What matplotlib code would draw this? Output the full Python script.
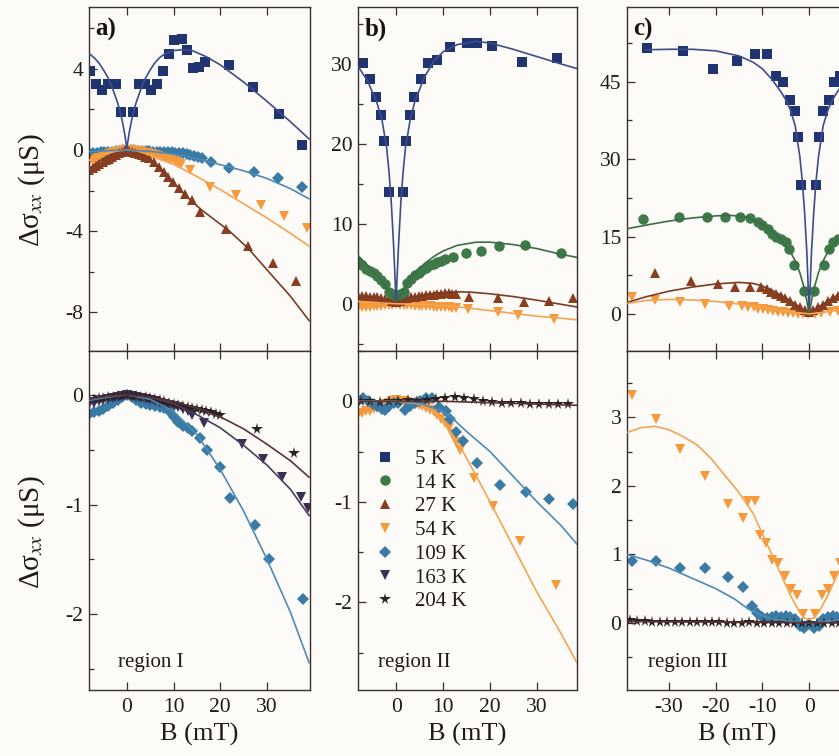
import matplotlib
matplotlib.use("Agg")
import matplotlib.pyplot as plt
from matplotlib.lines import Line2D
from matplotlib.ticker import MultipleLocator

plt.rcParams['font.family'] = ['Liberation Serif', 'DejaVu Serif']
plt.rcParams['mathtext.fontset'] = 'stix'
plt.rcParams['axes.unicode_minus'] = False

# ---------------- data (B in mT, delta sigma_xx in uS) ----------------
temps = ['5 K', '14 K', '27 K', '54 K', '109 K', '163 K', '204 K']

# panel a (top)
a5_B = [-7.9, -6.5, -5.3, -4.0, -2.4, -1.35, 1.35, 2.6, 3.8, 5.1, 6.4, 7.8, 9.1, 10.1, 11.7, 12.9, 14.2, 15.4, 16.8, 21.9, 27.0, 32.5, 37.5]
a5_S = [3.9, 3.24, 2.97, 3.27, 3.24, 1.88, 1.88, 3.24, 3.24, 2.97, 3.24, 3.9, 4.73, 5.43, 5.48, 4.93, 4.02, 4.07, 4.32, 4.2, 3.13, 1.77, 0.27]
a27_B = [-8, -7.3, -6.6, -5.9, -5.2, -4.5, -3.8, -3.1, -2.4, -1.7, -1.0, -0.3, 0.4, 1.1, 1.8, 2.5, 3.2, 3.9, 4.8, 5.8, 6.9, 7.9, 8.8, 9.9, 11.2, 12.4, 13.9, 15.6, 21.3, 26.0, 31.3, 36.3]
a27_S = [-1.0, -0.9, -0.8, -0.7, -0.6, -0.5, -0.42, -0.33, -0.24, -0.15, -0.08, -0.02, -0.03, -0.07, -0.12, -0.18, -0.24, -0.32, -0.4, -0.6, -0.82, -1.07, -1.35, -1.57, -1.87, -2.15, -2.48, -3.07, -3.87, -4.73, -5.57, -6.45]
a54_B = [-8, -7.3, -6.6, -5.9, -5.2, -4.5, -3.8, -3.1, -2.4, -1.7, -1.0, -0.3, 0.4, 1.1, 1.8, 2.5, 3.2, 3.9, 4.6, 5.3, 6.0, 6.7, 7.4, 8.1, 8.8, 9.5, 10.2, 10.9, 11.6, 13.5, 17.9, 23.3, 28.7, 33.7, 38.6]
a54_S = [-0.6, -0.52, -0.45, -0.38, -0.32, -0.26, -0.2, -0.15, -0.1, -0.06, -0.03, -0.01, -0.01, -0.02, -0.04, -0.06, -0.09, -0.12, -0.15, -0.19, -0.23, -0.27, -0.32, -0.37, -0.42, -0.48, -0.55, -0.62, -0.7, -0.98, -1.83, -2.23, -2.73, -3.23, -3.83]
a109_B = [-8, -7.2, -6.4, -5.6, -4.8, -4.0, -3.2, -2.4, -1.6, -0.8, 0, 0.8, 1.6, 2.4, 3.2, 4.0, 4.8, 5.6, 6.4, 7.2, 8.0, 8.8, 9.6, 10.4, 11.2, 12.0, 12.8, 13.6, 14.4, 15.2, 16.0, 18.1, 21.9, 27.2, 32.4, 37.4]
a109_S = [-0.15, -0.14, -0.12, -0.11, -0.1, -0.08, -0.07, -0.05, -0.03, -0.01, 0.0, -0.01, -0.02, -0.03, -0.04, -0.05, -0.06, -0.07, -0.08, -0.08, -0.09, -0.1, -0.11, -0.12, -0.13, -0.15, -0.18, -0.22, -0.27, -0.33, -0.4, -0.57, -0.9, -1.1, -1.4, -1.82]

a5_fB = [-8, -7, -6, -5, -4, -3, -2, -1.5, -1, -0.5, -0.2, 0, 0.2, 0.5, 1, 1.5, 2, 3, 4, 5, 6, 7, 8, 10, 12, 14, 17, 20, 25, 30, 35, 39]
a5_f = [4.75, 4.55, 4.3, 3.95, 3.55, 3.0, 2.35, 1.95, 1.45, 0.85, 0.4, 0.0, 0.4, 0.85, 1.45, 1.95, 2.35, 3.0, 3.55, 3.95, 4.3, 4.55, 4.72, 4.9, 4.95, 4.9, 4.6, 4.2, 3.35, 2.4, 1.4, 0.55]
a27_fB = [-8, -6, -4, -2, -1, 0, 1, 2, 4, 6, 8, 10, 12, 14, 16, 18, 20, 22, 26, 30, 35, 39]
a27_f = [-0.9, -0.55, -0.28, -0.08, -0.02, 0, -0.02, -0.08, -0.3, -0.65, -1.1, -1.6, -2.1, -2.55, -2.95, -3.3, -3.65, -4.0, -4.85, -5.9, -7.2, -8.4]
a54_fB = [-8, -6, -4, -2, 0, 2, 5, 10, 15, 20, 25, 30, 35, 39]
a54_f = [-0.5, -0.3, -0.14, -0.04, 0, -0.03, -0.25, -0.7, -1.3, -1.95, -2.65, -3.35, -4.1, -4.73]
a109_fB = [-8, -4, 0, 5, 10, 15, 20, 25, 30, 35, 39]
a109_f = [-0.08, -0.03, 0, -0.06, -0.2, -0.42, -0.72, -1.02, -1.4, -1.9, -2.4]

# panel b (top)
b5_B = [-7.1, -5.5, -4.3, -3.2, -2.5, -1.6, 1.4, 2.1, 3.0, 3.9, 5.3, 6.9, 8.8, 11.5, 15.0, 17.2, 20.4, 26.7, 34.3]
b5_S = [30.1, 28.1, 25.8, 23.6, 20.3, 14.0, 14.0, 20.3, 23.6, 25.8, 28.1, 30.1, 30.5, 32.1, 32.6, 32.6, 32.2, 30.2, 30.7]
b14_B = [-8, -7.2, -6.4, -5.6, -4.8, -4.0, -3.2, -2.4, -1.6, -0.8, 0, 0.8, 1.6, 2.4, 3.2, 4.0, 4.8, 5.6, 6.4, 7.2, 8.0, 8.8, 9.6, 10.4, 12.2, 14.8, 18.0, 22.0, 27.5, 35.0]
b14_S = [5.2, 4.8, 4.4, 4.1, 3.8, 3.5, 3.0, 2.5, 1.5, 1.2, 1.1, 1.2, 1.5, 2.6, 3.1, 3.6, 3.9, 4.2, 4.5, 4.8, 5.0, 5.2, 5.4, 5.6, 5.9, 6.3, 6.6, 7.2, 7.3, 6.4]
b27_B = [-8, -7.2, -6.4, -5.6, -4.8, -4.0, -3.2, -2.4, -1.6, -0.8, 0, 0.8, 1.6, 2.4, 3.2, 4.0, 4.8, 5.6, 6.4, 7.2, 8.0, 8.8, 9.6, 10.4, 11.2, 12.0, 12.8, 15.6, 21.7, 27.2, 32.6, 37.7]
b27_S = [1.0, 1.0, 0.95, 0.9, 0.85, 0.8, 0.75, 0.65, 0.55, 0.4, 0.25, 0.4, 0.55, 0.7, 0.8, 0.9, 0.95, 1.0, 1.05, 1.1, 1.15, 1.2, 1.25, 1.3, 1.3, 1.25, 1.2, 0.84, 0.71, 0.21, 0.41, 0.71]
b54_B = [-8, -7.2, -6.4, -5.6, -4.8, -4.0, -3.2, -2.4, -1.6, -0.8, 0, 0.8, 1.6, 2.4, 3.2, 4.0, 4.8, 5.6, 6.4, 7.2, 8.0, 8.8, 9.6, 10.4, 11.2, 12.0, 12.8, 15.4, 21.7, 26.0, 33.6]
b54_S = [-0.4, -0.4, -0.35, -0.35, -0.3, -0.3, -0.25, -0.2, -0.15, -0.1, -0.05, -0.1, -0.15, -0.2, -0.2, -0.25, -0.25, -0.3, -0.3, -0.3, -0.35, -0.35, -0.4, -0.4, -0.45, -0.5, -0.5, -0.7, -1.0, -1.46, -1.9]

b5_fB = [-8, -6, -4, -3, -2, -1.5, -1, -0.5, -0.2, 0, 0.2, 0.5, 1, 1.5, 2, 3, 4, 6, 8, 10, 13, 17, 20, 25, 30, 35, 38.5]
b5_f = [29.6, 27.8, 25.0, 23.0, 19.5, 16.5, 12.5, 7.0, 3.0, 0.0, 3.0, 7.0, 12.5, 16.5, 19.5, 23.0, 25.3, 28.3, 30.3, 31.5, 32.4, 32.8, 32.6, 31.8, 30.9, 30.0, 29.4]
b14_fB = [-8, -6, -4, -2, -1, -0.5, 0, 0.5, 1, 2, 4, 6, 8, 10, 13, 17, 20, 25, 30, 35, 38.5]
b14_f = [6.0, 4.7, 3.5, 2.0, 1.2, 0.7, 0.0, 0.7, 1.2, 2.2, 3.8, 5.0, 5.9, 6.6, 7.3, 7.7, 7.7, 7.4, 6.9, 6.2, 5.8]
b27_fB = [-8, -4, -2, -1, 0, 1, 2, 4, 6, 8, 10, 13, 16, 20, 25, 30, 35, 38.5]
b27_f = [1.0, 0.7, 0.5, 0.35, 0, 0.35, 0.55, 0.85, 1.1, 1.3, 1.4, 1.5, 1.45, 1.25, 0.9, 0.45, -0.05, -0.4]
b54_fB = [-8, -4, 0, 5, 10, 15, 20, 25, 30, 35, 38.5]
b54_f = [0.3, 0.15, 0, -0.05, -0.2, -0.5, -0.85, -1.2, -1.55, -1.8, -2.0]

# panel c (top)
c5_B = [-34.8, -27.0, -20.6, -15.5, -11.7, -9.1, -7.1, -5.5, -4.2, -3.1, -2.4, -1.7, 1.5, 2.2, 2.9, 4.2, 5.35, 6.5]
c5_S = [51.5, 51.0, 47.5, 49.1, 50.3, 50.3, 46.2, 44.9, 41.5, 39.4, 34.2, 25.0, 25.0, 34.2, 39.4, 41.5, 44.9, 46.2]
c14_B = [-35.5, -27.8, -21.9, -18.0, -14.9, -12.6, -10.9, -10.0, -8.9, -8.0, -7.1, -6.1, -5.0, -4.3, -3.2, -1.1, 1.1, 3.2, 4.3, 5.0, 6.1]
c14_S = [18.3, 18.7, 18.7, 18.7, 18.7, 18.6, 17.9, 17.2, 16.5, 15.5, 15.0, 14.6, 14.0, 12.6, 9.5, 4.5, 4.5, 9.5, 12.6, 14.0, 14.6]
c27_B = [-33, -25.3, -19.6, -15.8, -12.6, -10.3, -9.1, -8.1, -7.1, -6.1, -5.1, -4.0, -3.0, -1.9, -0.9, 0, 0.9, 1.9, 3.0, 4.0, 5.1, 6.1]
c27_S = [7.9, 6.3, 5.8, 5.2, 5.3, 5.3, 4.8, 4.3, 3.9, 3.4, 3.0, 2.5, 1.8, 1.4, 0.7, 0.3, 0.7, 1.4, 1.8, 2.5, 3.0, 3.4]
c54_B = [-38, -33, -27.6, -22.3, -17.1, -14.4, -13, -11.9, -10.9, -9.8, -8.8, -7.7, -6.6, -5.5, -4.5, -3.4, -2.3, -1.3, -0.2, 1.2, 2.6, 4.4, 6.2]
c54_S = [3.2, 2.6, 2.3, 1.9, 1.6, 1.6, 1.3, 1.3, 1.0, 0.9, 0.7, 0.5, 0.4, 0.3, 0.2, 0.1, 0.0, 0.0, -0.1, 0.0, 0.2, 0.4, 0.6]

c5_fB = [-35, -30, -25, -20, -15, -12, -10, -8, -6, -5, -4, -3, -2, -1.5, -1, -0.5, -0.2, 0, 0.2, 0.5, 1, 1.5, 2, 3, 4, 5, 6, 8]
c5_f = [51.2, 51.3, 51.3, 51.0, 50.0, 48.8, 47.5, 45.5, 43.0, 41.5, 39.5, 36.5, 30.5, 26.0, 20.0, 12.0, 5.0, 0.0, 5.0, 12.0, 20.0, 26.0, 30.5, 36.5, 39.5, 41.5, 43.0, 45.5]
c14_fB = [-39, -35, -30, -25, -20, -17, -14, -12, -10, -8, -6, -4, -3, -2, -1, -0.5, 0, 0.5, 1, 2, 3, 4, 6, 8]
c14_f = [16.5, 17.2, 18.0, 18.6, 19.0, 19.1, 18.9, 18.3, 17.3, 16.0, 14.3, 12.0, 10.3, 8.0, 4.8, 2.5, 0.0, 2.5, 4.8, 8.0, 10.3, 12.0, 14.3, 16.0]
c27_fB = [-39, -35, -30, -25, -20, -15, -12, -10, -8, -6, -4, -2, -1, 0, 1, 2, 4, 6, 8]
c27_f = [2.2, 3.3, 4.4, 5.2, 5.8, 6.1, 5.9, 5.4, 4.6, 3.6, 2.5, 1.3, 0.7, 0.0, 0.7, 1.3, 2.5, 3.6, 4.6]
c54_fB = [-39, -35, -30, -25, -20, -15, -10, -6, -3, 0, 3, 6, 8]
c54_f = [2.0, 2.6, 2.8, 2.7, 2.4, 1.9, 1.2, 0.7, 0.3, 0.0, 0.3, 0.7, 0.9]

# panel a (bottom, region I)
ra109_B = [-8, -7, -6, -5, -4, -3, -2, -1, 0, 1, 2, 3, 4, 5, 6, 7, 8, 9, 10, 11, 12, 13, 14, 15.6, 17.1, 19.9, 22.1, 27.4, 30.5, 37.6]
ra109_S = [-0.17, -0.16, -0.15, -0.13, -0.1, -0.07, -0.05, -0.02, 0.0, -0.02, -0.05, -0.07, -0.08, -0.09, -0.1, -0.11, -0.12, -0.15, -0.2, -0.25, -0.28, -0.3, -0.33, -0.39, -0.5, -0.66, -0.94, -1.19, -1.5, -1.86]
ra163_B = [-8, -7, -6, -5, -4, -3, -2, -1, 0, 1, 2, 3, 4, 5, 6, 7, 8, 9, 10, 11, 12, 13, 14, 16.5, 24.6, 29.2, 33.3, 37.2, 38.8]
ra163_S = [-0.08, -0.07, -0.06, -0.05, -0.04, -0.03, -0.02, -0.01, 0.0, -0.01, -0.02, -0.03, -0.04, -0.05, -0.06, -0.07, -0.08, -0.09, -0.1, -0.11, -0.13, -0.15, -0.18, -0.26, -0.45, -0.58, -0.75, -0.93, -1.03]
ra204_B = [-8, -7, -6, -5, -4, -3, -2, -1, 0, 1, 2, 3, 4, 5, 6, 7, 8, 9, 10, 11, 12, 13, 14, 15, 16, 17, 18, 19, 20, 27.9, 35.8]
ra204_S = [-0.04, -0.04, -0.03, -0.03, -0.02, -0.02, -0.01, -0.01, 0.0, -0.01, -0.01, -0.02, -0.02, -0.03, -0.04, -0.05, -0.06, -0.07, -0.08, -0.09, -0.1, -0.11, -0.12, -0.13, -0.14, -0.15, -0.16, -0.17, -0.18, -0.31, -0.53]
ra_fB = [-8, -4, 0, 5, 10, 15, 20, 25, 30, 35, 39]
ra109_f = [-0.05, -0.02, 0, -0.04, -0.15, -0.36, -0.68, -1.06, -1.5, -1.98, -2.44]
ra163_f = [-0.04, -0.01, 0, -0.02, -0.08, -0.18, -0.3, -0.46, -0.64, -0.86, -1.1]
ra204_f = [-0.03, -0.01, 0, -0.02, -0.06, -0.12, -0.2, -0.31, -0.45, -0.6, -0.75]

# panel b (bottom, region II)
rb54_B = [-8, -7.2, -6.4, -5.6, -4.8, -4.0, -3.2, -2.4, -1.6, -0.8, 0, 0.8, 1.6, 2.4, 3.2, 4.0, 4.8, 5.6, 6.4, 7.2, 8.0, 8.8, 9.6, 10.4, 11.2, 12.0, 12.8, 13.6, 16.6, 20.7, 26.4, 34.0]
rb54_S = [-0.13, -0.12, -0.1, -0.1, -0.08, -0.07, -0.05, -0.03, -0.02, 0.0, 0.01, 0.0, 0.0, -0.01, -0.02, -0.03, -0.04, -0.05, -0.07, -0.09, -0.11, -0.14, -0.18, -0.22, -0.27, -0.33, -0.4, -0.48, -0.76, -1.04, -1.39, -1.83]
rb109_B = [-8, -7, -6, -5, -4, -3, -2.3, -1.5, -0.5, 0.5, 1.9, 3, 4, 5, 6.4, 7.6, 9.2, 10.6, 11.5, 12.8, 14.2, 17.2, 22.1, 27.6, 32.6, 37.7]
rb109_S = [0.0, 0.03, 0.0, -0.03, -0.05, -0.08, -0.09, -0.05, -0.02, -0.02, -0.09, -0.05, -0.02, 0.0, 0.03, 0.03, -0.06, -0.1, -0.18, -0.31, -0.39, -0.61, -0.83, -0.9, -0.97, -1.02]
rb204_B = [-7.5, -5.5, -3.5, -1.5, 0.5, 2.5, 4.5, 6.5, 8.5, 10.5, 12.5, 14.5, 16.5, 18.5, 20.5, 22.5, 24.5, 26.5, 28.5, 30.5, 32.5, 34.5, 36.5]
rb204_S = [0.0, 0.0, -0.01, 0.0, 0.0, 0.01, 0.0, 0.01, 0.02, 0.03, 0.04, 0.03, 0.02, 0.0, -0.01, -0.02, -0.02, -0.02, -0.03, -0.03, -0.03, -0.03, -0.03]
rb54_fB = [-8, 0, 5, 8, 10, 12, 14, 16, 20, 25, 30, 35, 38.5]
rb54_f = [0.0, 0.0, -0.03, -0.1, -0.2, -0.33, -0.48, -0.65, -1.0, -1.45, -1.9, -2.3, -2.6]
rb109_fB = [-8, 0, 5, 10, 12, 15, 20, 25, 30, 35, 38.5]
rb109_f = [0.0, 0.0, -0.02, -0.1, -0.17, -0.3, -0.5, -0.75, -1.0, -1.23, -1.42]
rb204_fB = [-8, 10, 38.5]
rb204_f = [0.0, 0.0, -0.04]

# panel c (bottom, region III)
rc54_B = [-38, -32.8, -27.6, -22.3, -17.3, -14.2, -13.0, -11.6, -10.5, -9.2, -8.0, -6.6, -5.1, -3.9, -2.5, -1.35, 1.3, 2.7, 4.1, 5.4, 6.6]
rc54_S = [3.33, 2.98, 2.54, 2.15, 1.74, 1.53, 1.78, 1.78, 1.29, 1.17, 0.92, 0.87, 0.68, 0.49, 0.41, 0.13, 0.13, 0.41, 0.49, 0.68, 0.87]
rc109_B = [-38, -32.8, -27.6, -22.3, -17.3, -14.2, -12.3, -11.2, -10, -9, -8, -7, -6, -5, -4, -3, -2, -1, 0, 1, 2, 3, 4, 5, 6]
rc109_S = [0.9, 0.9, 0.8, 0.8, 0.67, 0.52, 0.24, 0.15, 0.08, 0.07, 0.08, 0.1, 0.08, 0.1, 0.08, 0.05, -0.05, -0.08, -0.02, -0.08, -0.05, 0.05, 0.08, 0.1, 0.08]
rc204_B = [-38.4, -36.8, -35.2, -33.6, -32.0, -30.4, -28.8, -27.2, -25.6, -24.0, -22.4, -20.8, -19.2, -17.6, -16.0, -14.4, -12.8, -11.2, -9.6, -8.0, -6.4, -4.8, -3.2, -1.6, 0.0, 1.6, 3.2, 4.8, 6.4]
rc204_S = [0.04, 0.03, 0.03, 0.02, 0.02, 0.02, 0.02, 0.02, 0.01, 0.01, 0.01, 0.01, 0.01, 0.0, 0.0, 0.0, 0.01, 0.0, 0.0, 0.0, 0.0, 0.0, 0.0, 0.0, 0.0, 0.0, 0.0, 0.0, 0.0]
rc54_fB = [-39, -36, -33, -30, -27, -24, -21, -18, -15, -12, -10, -8, -6, -4, -2, -1, 0, 1, 2, 4, 6, 8]
rc54_f = [2.78, 2.85, 2.87, 2.82, 2.72, 2.6, 2.4, 2.15, 1.9, 1.6, 1.3, 1.0, 0.7, 0.4, 0.15, 0.07, 0.05, 0.07, 0.15, 0.4, 0.7, 1.0]
rc109_fB = [-39, -35, -30, -25, -20, -16, -13, -10, -8, -5, 0, 5, 8]
rc109_f = [1.0, 0.92, 0.8, 0.65, 0.5, 0.35, 0.2, 0.1, 0.06, 0.03, 0.0, 0.03, 0.06]
rc204_fB = [-39, 8]
rc204_f = [0.02, 0.0]

# ---------------- styles ----------------
mcol = {'5 K': '#1f3470', '14 K': '#3d7a48', '27 K': '#8a3e20', '54 K': '#f5993a',
        '109 K': '#3a7ba6', '163 K': '#3a2e55', '204 K': '#2a2020'}
lcol = {'5 K': '#3e4c8c', '14 K': '#3d6b48', '27 K': '#7d3b25', '54 K': '#f3a455',
        '109 K': '#4f8ab5', '163 K': '#4c3c5e', '204 K': '#5a3434'}
mkr = {'5 K': 's', '14 K': 'o', '27 K': '^', '54 K': 'v', '109 K': 'D', '163 K': 'v', '204 K': '*'}
msz = {'5 K': 6.5, '14 K': 7.5, '27 K': 7.5, '54 K': 7.5, '109 K': 6.5, '163 K': 7.5, '204 K': 8.5}
ink = '#3a2e2e'
txt = '#221a1a'
bg = '#fcfbf8'

W, H = 839, 756
fig = plt.figure(figsize=(W / 100, H / 100), dpi=100, facecolor=bg)


def axbox(l, r, t, b):
    return [l / W, 1 - b / H, (r - l) / W, (b - t) / H]


axes = {
    'a': fig.add_axes(axbox(89, 310, 7, 351)),
    'b': fig.add_axes(axbox(358, 577, 7, 351)),
    'c': fig.add_axes(axbox(627, 847, 7, 351)),
    'ra': fig.add_axes(axbox(89, 310, 351, 690)),
    'rb': fig.add_axes(axbox(358, 577, 351, 690)),
    'rc': fig.add_axes(axbox(627, 847, 351, 690)),
}


def pts(ax, B, S, t):
    ax.plot(B, S, ls='none', marker=mkr[t], ms=msz[t], color=mcol[t], mew=0, zorder=2)


def fit(ax, B, S, t):
    ax.plot(B, S, '-', color=lcol[t], lw=1.2, zorder=3)


ax = axes['a']
pts(ax, a109_B, a109_S, '109 K'); pts(ax, a54_B, a54_S, '54 K')
pts(ax, a27_B, a27_S, '27 K'); pts(ax, a5_B, a5_S, '5 K')
fit(ax, a5_fB, a5_f, '5 K'); fit(ax, a27_fB, a27_f, '27 K')
fit(ax, a54_fB, a54_f, '54 K'); fit(ax, a109_fB, a109_f, '109 K')

ax = axes['b']
pts(ax, b54_B, b54_S, '54 K'); pts(ax, b27_B, b27_S, '27 K')
pts(ax, b14_B, b14_S, '14 K'); pts(ax, b5_B, b5_S, '5 K')
fit(ax, b5_fB, b5_f, '5 K'); fit(ax, b14_fB, b14_f, '14 K')
fit(ax, b27_fB, b27_f, '27 K'); fit(ax, b54_fB, b54_f, '54 K')

ax = axes['c']
pts(ax, c54_B, c54_S, '54 K'); pts(ax, c27_B, c27_S, '27 K')
pts(ax, c14_B, c14_S, '14 K'); pts(ax, c5_B, c5_S, '5 K')
fit(ax, c5_fB, c5_f, '5 K'); fit(ax, c14_fB, c14_f, '14 K')
fit(ax, c27_fB, c27_f, '27 K'); fit(ax, c54_fB, c54_f, '54 K')

ax = axes['ra']
pts(ax, ra109_B, ra109_S, '109 K'); pts(ax, ra163_B, ra163_S, '163 K')
pts(ax, ra204_B, ra204_S, '204 K')
fit(ax, ra_fB, ra109_f, '109 K'); fit(ax, ra_fB, ra163_f, '163 K')
fit(ax, ra_fB, ra204_f, '204 K')

ax = axes['rb']
pts(ax, rb54_B, rb54_S, '54 K'); pts(ax, rb109_B, rb109_S, '109 K')
pts(ax, rb204_B, rb204_S, '204 K')
fit(ax, rb54_fB, rb54_f, '54 K'); fit(ax, rb109_fB, rb109_f, '109 K')
fit(ax, rb204_fB, rb204_f, '204 K')

ax = axes['rc']
pts(ax, rc54_B, rc54_S, '54 K'); pts(ax, rc109_B, rc109_S, '109 K')
pts(ax, rc204_B, rc204_S, '204 K')
fit(ax, rc54_fB, rc54_f, '54 K'); fit(ax, rc109_fB, rc109_f, '109 K')
fit(ax, rc204_fB, rc204_f, '204 K')

# limits and ticks
lims = {'a': ((-8.1, 39.2), (-9.9, 7.05), 4, 2),
        'b': ((-8.1, 38.5), (-5.9, 37.1), 10, 5),
        'c': ((-39.0, 8.1), (-7.2, 59.5), 15, 7.5),
        'ra': ((-8.1, 39.2), (-2.69, 0.4), 1, 0.5),
        'rb': ((-8.1, 38.5), (-2.87, 0.5), 1, 0.5),
        'rc': ((-39.0, 8.1), (-0.98, 3.97), 1, 0.5)}
for key, ax in axes.items():
    xl, yl, maj, mnr = lims[key]
    ax.set_xlim(xl)
    ax.set_ylim(yl)
    ax.set_facecolor(bg)
    ax.xaxis.set_major_locator(MultipleLocator(10))
    ax.yaxis.set_major_locator(MultipleLocator(maj))
    ax.yaxis.set_minor_locator(MultipleLocator(mnr))
    ax.tick_params(which='both', direction='in', top=True, bottom=True, left=True, right=False,
                   colors=ink, labelcolor=txt, labelsize=15.5, width=0.9)
    ax.tick_params(which='major', length=6)
    ax.tick_params(which='minor', length=3.5)
    ax.tick_params(axis='y', pad=4)
    ax.tick_params(axis='x', pad=6)
    for sp in ax.spines.values():
        sp.set_color(ink)
        sp.set_linewidth(1.0)
    if key in ('a', 'b', 'c'):
        ax.tick_params(labelbottom=False)
    else:
        ax.set_xlabel('B (mT)', fontsize=19, color=txt, labelpad=4)

for key, lab in (('a', 'a)'), ('b', 'b)'), ('c', 'c)')):
    axes[key].text(0.03, 0.935, lab, transform=axes[key].transAxes, fontsize=18,
                   fontweight='bold', color='#1a1212', va='center', ha='left')

for key, lab, x0 in (('ra', 'region I', 0.13), ('rb', 'region II', 0.09), ('rc', 'region III', 0.095)):
    axes[key].text(x0, 0.08, lab, transform=axes[key].transAxes, fontsize=15,
                   color=txt, va='center', ha='left')

ylab = r'Δσ$_{xx}$ (μS)'
fig.text(32 / W, 1 - 190 / H, ylab, rotation=90, fontsize=21, color=txt, ha='center', va='center')
fig.text(32 / W, 1 - 532 / H, ylab, rotation=90, fontsize=21, color=txt, ha='center', va='center')

handles = [Line2D([], [], ls='none', marker=mkr[t], ms=msz[t], color=mcol[t], mew=0) for t in temps]
axes['rb'].legend(handles, temps, loc='upper left', bbox_to_anchor=(0.078, 0.71), frameon=False,
                  fontsize=15, handlelength=1.0, handletextpad=0.9, labelspacing=0.2,
                  borderpad=0, borderaxespad=0, labelcolor=txt)

fig.savefig('out.png', dpi=100, facecolor=bg)
